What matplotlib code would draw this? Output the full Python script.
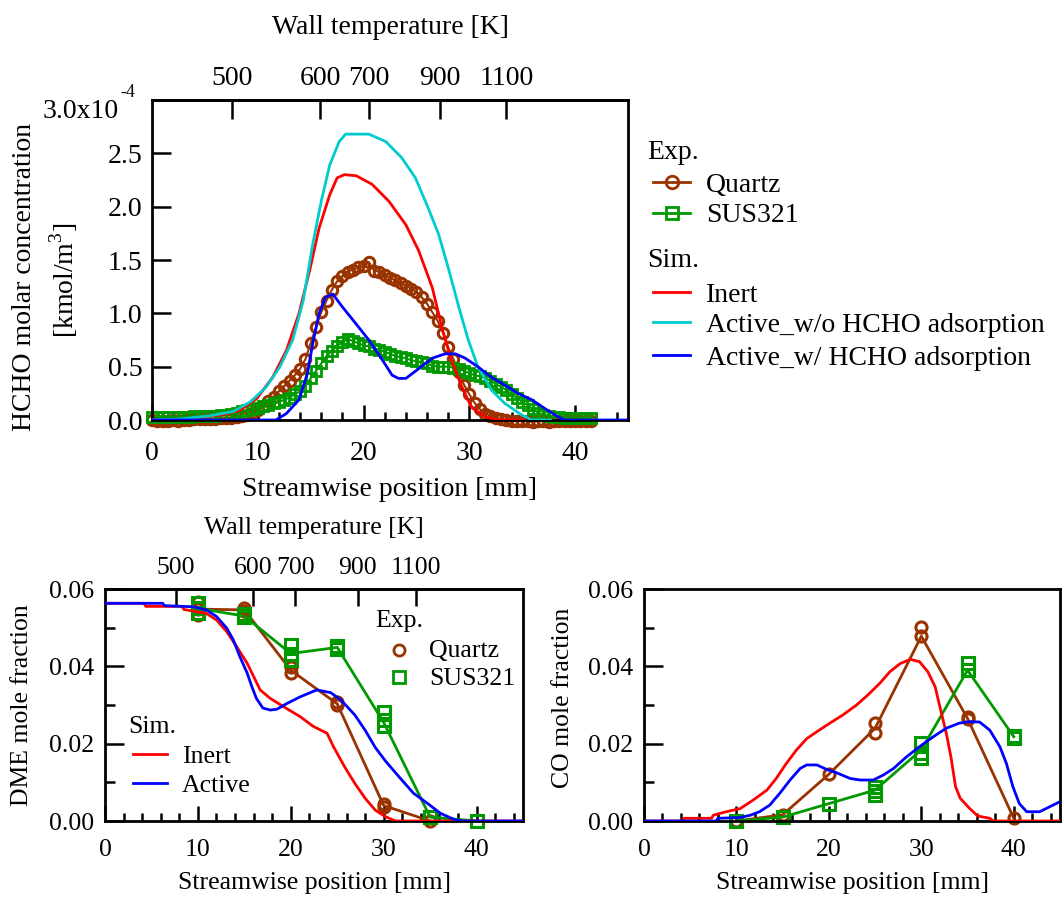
import numpy as np
import matplotlib
matplotlib.use("Agg")
import matplotlib.pyplot as plt
from matplotlib.lines import Line2D
from matplotlib.ticker import MultipleLocator, NullLocator, FormatStrFormatter

plt.rcParams['font.family'] = 'Liberation Serif'
plt.rcParams['mathtext.fontset'] = 'custom'
plt.rcParams['mathtext.rm'] = 'Liberation Serif'

# ---- wall temperature (top axis) ----
temp_pos = [7.6, 15.9, 20.5, 27.2, 33.5]
temp_labels = ['500', '600', '700', '900', '1100']

# ---- HCHO concentration [x1e-4 kmol/m3] ----
exp_x = np.arange(0, 42, 0.5)
quartz_hcho = [0.00, -0.01, -0.01, -0.01, 0.00, -0.01, 0.00,
               0.00, 0.01, 0.01, 0.01, 0.01, 0.01, 0.02, 0.02, 0.02,
               0.03, 0.04, 0.05, 0.07, 0.09, 0.13, 0.18, 0.22, 0.27,
               0.32, 0.37, 0.42, 0.48, 0.57, 0.72, 0.87, 1.01, 1.12,
               1.22, 1.30, 1.35, 1.39, 1.41, 1.43, 1.44, 1.48, 1.40,
               1.39, 1.36, 1.33, 1.31, 1.28, 1.26, 1.23, 1.20, 1.15,
               1.09, 1.01, 0.93, 0.82, 0.68, 0.57, 0.45, 0.33, 0.24,
               0.16, 0.10, 0.06, 0.04, 0.02, 0.01, 0.00, -0.01, -0.01,
               -0.01, -0.01, -0.02, -0.01, -0.01, -0.02, -0.01, -0.01, -0.01, -0.01,
               -0.01, -0.01, -0.01, -0.01]
sus_hcho = [0.03, 0.03, 0.03, 0.03, 0.03, 0.03, 0.03,
            0.03, 0.04, 0.04, 0.04, 0.04, 0.04, 0.05, 0.05, 0.06,
            0.07, 0.08, 0.09, 0.10, 0.11, 0.13, 0.14, 0.16, 0.17,
            0.19, 0.21, 0.24, 0.27, 0.32, 0.39, 0.46, 0.53, 0.60,
            0.65, 0.69, 0.73, 0.76, 0.74, 0.72, 0.70, 0.69, 0.67,
            0.66, 0.64, 0.62, 0.60, 0.59, 0.58, 0.56, 0.55, 0.54,
            0.53, 0.51, 0.50, 0.50, 0.50, 0.49, 0.48, 0.46, 0.44,
            0.42, 0.41, 0.39, 0.37, 0.34, 0.31, 0.28, 0.24, 0.21,
            0.17, 0.14, 0.10, 0.07, 0.05, 0.04, 0.03, 0.03, 0.02, 0.02,
            0.02, 0.02, 0.02, 0.02]

inert_x = [0, 3, 6.7, 8.3, 9.9, 11.4, 12.7, 13.9, 14.9, 15.8, 16.8, 17.5, 18.2, 19.3,
           20.8, 22.4, 24.0, 25.2, 26.5, 27.4, 28.3, 29.3, 30.2, 31.5, 32.7, 35.2]
inert_hcho = [0, 0.01, 0.05, 0.09, 0.20, 0.40, 0.65, 1.00, 1.40, 1.80, 2.11, 2.27, 2.30, 2.29,
              2.21, 2.05, 1.83, 1.59, 1.24, 0.87, 0.56, 0.31, 0.12, 0.03, 0.0, 0.0]

wo_x = [0, 2.7, 5.5, 7.7, 9.3, 10.8, 12.1, 13.3, 14.3, 15.2, 16.0, 16.8, 17.7, 18.3, 20.5,
        22.1, 23.6, 24.9, 26.1, 27.1, 28.0, 29.0, 29.9, 30.8, 32.1, 33.3, 34.9, 35.9, 37.7]
wo_hcho = [0, 0.01, 0.04, 0.08, 0.17, 0.31, 0.50, 0.75, 1.12, 1.65, 2.05, 2.39, 2.61, 2.68, 2.68,
           2.61, 2.46, 2.27, 1.99, 1.74, 1.43, 1.06, 0.75, 0.50, 0.28, 0.16, 0.05, 0.0, 0.0]

w_x = [0, 11.7, 12.7, 13.9, 14.7, 15.2, 15.8, 16.4, 17.1, 18.0, 19.3, 20.5, 21.8, 22.7, 23.3,
       24.0, 25.2, 26.5, 27.7, 28.7, 29.6, 30.8, 32.1, 33.3, 34.6, 35.9, 37.1, 38.4, 39.0, 45]
w_hcho = [0, 0.0, 0.06, 0.19, 0.44, 0.72, 1.00, 1.15, 1.18, 1.06, 0.90, 0.75, 0.56, 0.42, 0.39,
          0.39, 0.48, 0.58, 0.62, 0.62, 0.58, 0.50, 0.40, 0.33, 0.25, 0.19, 0.11, 0.03, 0.0, 0.0]

# ---- DME mole fraction ----
dme_q_x = [10, 10, 10, 15, 15, 20, 20, 25, 25, 30, 30, 35]
dme_q_y = [0.0567, 0.0548, 0.0533, 0.0550, 0.0542, 0.0399, 0.0383, 0.0308, 0.0300, 0.0044, 0.0037, 0.0]
dme_q_line_x = [10, 15, 20, 25, 30, 35]
dme_q_line_y = [0.0548, 0.0546, 0.0390, 0.0303, 0.0040, 0.0]
dme_s_x = [10, 10, 10, 15, 15, 20, 20, 20, 25, 25, 30, 30, 30, 35, 40]
dme_s_y = [0.0565, 0.0552, 0.0538, 0.0535, 0.0528, 0.0455, 0.0433, 0.0416, 0.0452, 0.0446,
           0.0283, 0.0262, 0.0246, 0.0010, 0.0]
dme_s_line_x = [10, 15, 20, 25, 30, 35, 40]
dme_s_line_y = [0.0550, 0.0530, 0.0433, 0.0449, 0.0255, 0.0010, 0.0]

dme_inert_x = [0, 4.2, 4.4, 8.3, 8.5, 10.9, 12.0, 13.1, 14.2, 15.3, 16.1, 16.7, 17.8, 19.2,
               21.0, 22.4, 23.9, 24.6, 25.8, 26.9, 28.0, 29.1, 30.2, 31.3, 45]
dme_inert_y = [0.0563, 0.0563, 0.0555, 0.0555, 0.0547, 0.0537, 0.0520, 0.0490, 0.0450, 0.0408,
               0.0369, 0.0339, 0.0317, 0.0296, 0.0270, 0.0245, 0.0227, 0.0192, 0.0140, 0.0097,
               0.0059, 0.0028, 0.0011, 0.0, 0.0]
dme_active_x = [0, 6.2, 6.4, 9.5, 10.9, 12.0, 13.1, 13.8, 14.5, 15.3, 15.8, 16.3, 17.0, 17.8,
                18.5, 19.6, 21.0, 22.8, 24.3, 25.4, 26.9, 28.0, 29.1, 30.2, 31.7, 33.2, 34.7,
                36.1, 37.6, 38.4, 45]
dme_active_y = [0.0563, 0.0563, 0.0557, 0.0554, 0.0546, 0.0529, 0.0499, 0.0469, 0.0426, 0.0383,
                0.0348, 0.0317, 0.0292, 0.0287, 0.0289, 0.0304, 0.0321, 0.0339, 0.0332, 0.0313,
                0.0274, 0.0235, 0.0190, 0.0155, 0.0113, 0.0072, 0.0046, 0.0020, 0.0004, 0.0, 0.0]

# ---- CO mole fraction ----
co_q_x = [10, 15, 20, 25, 25, 30, 30, 35, 35, 40]
co_q_y = [0.0, 0.0016, 0.0121, 0.0253, 0.0227, 0.0502, 0.0478, 0.0268, 0.0263, 0.0007]
co_q_line_x = [10, 15, 20, 25, 30, 35, 40]
co_q_line_y = [0.0, 0.0016, 0.0121, 0.0240, 0.0478, 0.0265, 0.0007]
co_s_x = [10, 15, 20, 25, 25, 25, 30, 30, 30, 35, 35, 40, 40]
co_s_y = [0.0, 0.0010, 0.0045, 0.0088, 0.0078, 0.0067, 0.0202, 0.0175, 0.0164, 0.0409,
          0.0390, 0.0221, 0.0215]
co_s_line_x = [10, 15, 20, 25, 30, 35, 40]
co_s_line_y = [0.0, 0.0010, 0.0045, 0.0080, 0.0184, 0.0390, 0.0218]

co_inert_x = [0, 4.1, 4.3, 7.3, 7.5, 8.9, 10.4, 11.8, 13.3, 14.3, 15.4, 16.5, 17.6, 18.7, 20.1,
              21.5, 23.0, 24.4, 25.5, 26.6, 27.7, 28.8, 29.8, 30.7, 31.5, 32.0, 32.7, 33.2,
              33.7, 34.2, 35.2, 36.1, 37.4, 37.8, 45]
co_inert_y = [0, 0, 0.0007, 0.0007, 0.0015, 0.0024, 0.0032, 0.0054, 0.0080, 0.0110, 0.0149,
              0.0184, 0.0213, 0.0231, 0.0253, 0.0274, 0.0300, 0.0330, 0.0356, 0.0386, 0.0407,
              0.0418, 0.0412, 0.0386, 0.0347, 0.0296, 0.0227, 0.0166, 0.0089, 0.0059, 0.0033,
              0.0013, 0.0007, 0.0, 0.0]
co_active_x = [0, 7.8, 8.0, 10.4, 11.5, 12.5, 13.6, 14.7, 15.8, 16.9, 17.6, 18.7, 19.8, 20.8,
               22.3, 23.4, 24.8, 25.9, 27.0, 28.4, 29.8, 31.3, 32.7, 34.1, 35.2, 36.3, 37.4,
               38.5, 39.2, 39.9, 40.6, 41.4, 42.8, 43.9, 45.0]
co_active_y = [0, 0, 0.0007, 0.0009, 0.0015, 0.0024, 0.0041, 0.0072, 0.0106, 0.0136, 0.0145,
               0.0145, 0.0133, 0.0125, 0.0110, 0.0106, 0.0106, 0.0119, 0.0136, 0.0166, 0.0192,
               0.0218, 0.0240, 0.0253, 0.0257, 0.0256, 0.0235, 0.0192, 0.0149, 0.0089, 0.0045,
               0.0024, 0.0024, 0.0037, 0.0050]

BROWN = '#993300'
GREEN = '#009900'
RED = '#ff0000'
CYAN = '#00cccc'
BLUE = '#0000ff'

W, H = 1062, 898
fig = plt.figure(figsize=(W / 100, H / 100), dpi=100)


def box(l, t, r, b):
    return [l / W, 1 - b / H, (r - l) / W, (b - t) / H]


def fx(x):
    return x / W


def fy(y):
    return 1 - y / H


def style(ax, fs, xpad, ypad, yminor=None):
    for s in ax.spines.values():
        s.set_linewidth(2.0)
    ax.set_xlim(0, 45)
    ax.xaxis.set_major_locator(MultipleLocator(10))
    ax.xaxis.set_minor_locator(MultipleLocator(2))
    if yminor:
        ax.yaxis.set_minor_locator(MultipleLocator(yminor))
    else:
        ax.yaxis.set_minor_locator(NullLocator())
    ax.tick_params(which='both', direction='in', width=1.8, top=False, right=False,
                   labelsize=fs)
    ax.tick_params(axis='x', which='major', length=11, pad=xpad)
    ax.tick_params(axis='x', which='minor', length=5.5)
    ax.tick_params(axis='y', which='major', length=14, pad=ypad)
    ax.tick_params(axis='y', which='minor', length=7.5)


def temp_axis(ax, fs, pad, length):
    sec = ax.secondary_xaxis('top')
    sec.set_xticks(temp_pos, temp_labels)
    sec.xaxis.set_minor_locator(NullLocator())
    sec.tick_params(direction='in', length=length, width=1.8, labelsize=fs, pad=pad)
    sec.spines['top'].set_linewidth(2.0)
    return sec


def entry(x0, x1, y, color, marker=None, ms=8, line=True):
    if line:
        fig.add_artist(Line2D([fx(x0), fx(x1)], [fy(y), fy(y)], color=color, lw=2.0,
                              transform=fig.transFigure))
    if marker:
        fig.add_artist(Line2D([fx((x0 + x1) / 2)], [fy(y)], marker=marker, ms=ms, mfc='none',
                              mec=color, mew=2.0, ls='none', transform=fig.transFigure))


# ================= top: HCHO =================
ax1 = fig.add_axes(box(152, 100, 628, 420))
ax1.plot(exp_x, quartz_hcho, '-o', color=BROWN, lw=1.5, ms=7.5, mfc='none', mew=2.2,
         clip_on=False, zorder=2)
ax1.plot(exp_x, sus_hcho, '-s', color=GREEN, lw=1.5, ms=7, mfc='none', mew=2.0,
         clip_on=False, zorder=2)
ax1.plot(inert_x, inert_hcho, color=RED, lw=2.0, zorder=3)
ax1.plot(wo_x, wo_hcho, color=CYAN, lw=2.0, zorder=3)
ax1.plot(w_x, w_hcho, color=BLUE, lw=2.0, zorder=4)
ax1.set_ylim(0, 3.0)
ax1.set_yticks([0, 0.5, 1.0, 1.5, 2.0, 2.5, 3.0],
               ['0.0', '0.5', '1.0', '1.5', '2.0', '2.5', ''])
style(ax1, 20, 15, 7)
temp_axis(ax1, 20, 6.5, 14)

fig.text(fx(119), fy(118), '3.0x10', fontsize=20, ha='right', va='baseline')
fig.text(fx(120), fy(97), '-4', fontsize=13, ha='left', va='baseline')
fig.text(fx(25), fy(277), 'HCHO molar concentration', fontsize=20, rotation=90,
         ha='center', va='center')
fig.text(fx(64), fy(280), '[kmol/m$^{3}$]', fontsize=20, rotation=90,
         ha='center', va='center')
fig.text(fx(390), fy(490), 'Streamwise position [mm]', fontsize=20, ha='center', va='center')
fig.text(fx(390), fy(28), 'Wall temperature [K]', fontsize=20, ha='center', va='center')

# legend (top)
fig.text(fx(647), fy(159), 'Exp.', fontsize=20, va='baseline')
entry(653, 690, 182, BROWN, 'o', ms=9)
fig.text(fx(706), fy(192), 'Quartz', fontsize=20, va='baseline')
entry(653, 690, 213, GREEN, 's', ms=8)
fig.text(fx(706), fy(222), 'SUS321', fontsize=20, va='baseline')
fig.text(fx(647), fy(267), 'Sim.', fontsize=20, va='baseline')
entry(653, 690, 292, RED)
fig.text(fx(706), fy(302), 'Inert', fontsize=20, va='baseline')
entry(653, 690, 322, CYAN)
fig.text(fx(706), fy(332), 'Active_w/o HCHO adsorption', fontsize=20, va='baseline')
entry(653, 690, 355, BLUE)
fig.text(fx(706), fy(365), 'Active_w/ HCHO adsorption', fontsize=20, va='baseline')

# ================= bottom left: DME =================
ax2 = fig.add_axes(box(105, 589, 523, 821))
ax2.plot(dme_q_line_x, dme_q_line_y, color=BROWN, lw=2.0, zorder=2)
ax2.plot(dme_q_x, dme_q_y, 'o', color=BROWN, ms=8, mfc='none', mew=2.2, clip_on=False, zorder=2)
ax2.plot(dme_s_line_x, dme_s_line_y, color=GREEN, lw=2.0, zorder=2)
ax2.plot(dme_s_x, dme_s_y, 's', color=GREEN, ms=8, mfc='none', mew=2.2, clip_on=False, zorder=2)
ax2.plot(dme_inert_x, dme_inert_y, color=RED, lw=2.0, zorder=3)
ax2.plot(dme_active_x, dme_active_y, color=BLUE, lw=2.0, zorder=3)
ax2.set_ylim(0, 0.06)
ax2.yaxis.set_major_locator(MultipleLocator(0.02))
ax2.yaxis.set_major_formatter(FormatStrFormatter('%.2f'))
style(ax2, 18.5, 13, 8, yminor=0.01)
temp_axis(ax2, 18.5, 7, 12.5)

fig.text(fx(22), fy(705), 'DME mole fraction', fontsize=18.5, rotation=90, ha='center', va='center')
fig.text(fx(314), fy(883), 'Streamwise position [mm]', fontsize=18.5, ha='center', va='center')
fig.text(fx(314), fy(528), 'Wall temperature [K]', fontsize=18.5, ha='center', va='center')

fig.text(fx(375), fy(627), 'Exp.', fontsize=18.5, va='baseline')
entry(399, 399, 650, BROWN, 'o', ms=8, line=False)
fig.text(fx(429), fy(657), 'Quartz', fontsize=18.5, va='baseline')
entry(399, 399, 677, GREEN, 's', ms=8, line=False)
fig.text(fx(429), fy(685), 'SUS321', fontsize=18.5, va='baseline')
fig.text(fx(128), fy(733), 'Sim.', fontsize=18.5, va='baseline')
entry(133, 167, 754, RED)
fig.text(fx(182), fy(763), 'Inert', fontsize=18.5, va='baseline')
entry(133, 167, 783, BLUE)
fig.text(fx(182), fy(792), 'Active', fontsize=18.5, va='baseline')

# ================= bottom right: CO =================
ax3 = fig.add_axes(box(644, 589, 1060, 821))
ax3.plot(co_q_line_x, co_q_line_y, color=BROWN, lw=2.0, zorder=2)
ax3.plot(co_q_x, co_q_y, 'o', color=BROWN, ms=8, mfc='none', mew=2.2, clip_on=False, zorder=2)
ax3.plot(co_s_line_x, co_s_line_y, color=GREEN, lw=2.0, zorder=2)
ax3.plot(co_s_x, co_s_y, 's', color=GREEN, ms=8, mfc='none', mew=2.2, clip_on=False, zorder=2)
ax3.plot(co_inert_x, co_inert_y, color=RED, lw=2.0, zorder=3)
ax3.plot(co_active_x, co_active_y, color=BLUE, lw=2.0, zorder=3)
ax3.set_ylim(0, 0.06)
ax3.yaxis.set_major_locator(MultipleLocator(0.02))
ax3.yaxis.set_major_formatter(FormatStrFormatter('%.2f'))
style(ax3, 18.5, 13, 8, yminor=0.01)

fig.text(fx(563), fy(698), 'CO mole fraction', fontsize=18.5, rotation=90, ha='center', va='center')
fig.text(fx(852), fy(883), 'Streamwise position [mm]', fontsize=18.5, ha='center', va='center')

fig.savefig('out.png', dpi=100)
